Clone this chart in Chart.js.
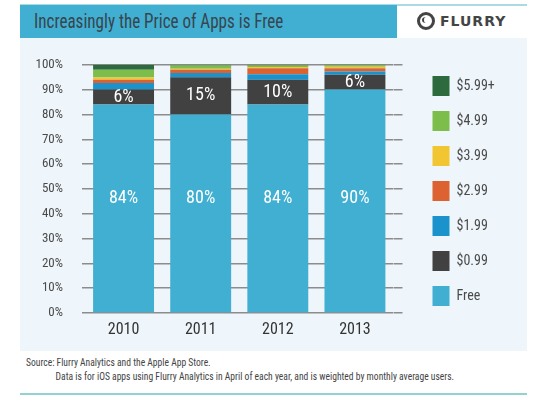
<!DOCTYPE html>
<html>
<head>
<meta charset="utf-8">
<script src="https://cdn.jsdelivr.net/npm/chart.js@4/dist/chart.umd.min.js"></script>
<style>
  html, body { margin: 0; padding: 0; background: #fff; width: 554px; height: 396px; overflow: hidden; }
  body { position: relative; font-family: "Roboto Condensed", "DejaVu Sans Condensed", sans-serif; }
  #topline { position: absolute; left: 20px; top: 4px; width: 507px; height: 2px; background: #a9dbe1; }
  #title { position: absolute; left: 20px; top: 5px; width: 377px; height: 33px; background: #41afd1; }
  #title span { position: absolute; left: 14px; top: 0; line-height: 33px; font-size: 20px; color: #37454f;
                white-space: nowrap; transform: scaleX(0.853); transform-origin: 0 50%; }
  #logo { position: absolute; left: 417px; top: 12px; height: 18px; display: flex; align-items: center;
          color: #444; font: bold 14px "DejaVu Sans", sans-serif; letter-spacing: 1px; }
  #logo .ring { width: 12px; height: 12px; border: 3px solid #444; border-radius: 50%; margin-right: 5px; position: relative; }
  #logo .ring::after { content: ""; position: absolute; left: 2px; top: 2px; width: 6px; height: 6px; border-radius: 50%; border-left: 2px solid #444; }
  #panel { position: absolute; left: 20px; top: 38px; width: 507px; height: 313px; background: #eef6fb; }
  #src { position: absolute; left: 26px; top: 356px; font-size: 11px; color: #444; line-height: 14px; white-space: nowrap;
         transform: scaleX(0.87); transform-origin: 0 0; }
  #src .l2 { padding-left: 34px; }
  #bottomline { position: absolute; left: 20px; top: 393px; width: 507px; height: 2px; background: #93d2d2; }
</style>
</head>
<body>
<div id="topline"></div>
<div id="title"><span>Increasingly the Price of Apps is Free</span></div>
<div id="logo"><span class="ring"></span>FLURRY</div>
<div id="panel"><canvas id="c" width="507" height="313"></canvas></div>
<div id="src">Source: Flurry Analytics and the Apple App Store.<br><span class="l2">Data is for iOS apps using Flurry Analytics in April of each year, and is weighted by monthly average users.</span></div>
<div id="bottomline"></div>

<script>
// ── Data ─────────────────────────────────────────────────────────────────────
const years   = ["2010", "2011", "2012", "2013"];
const free    = [84, 80, 84, 90];
const p099    = [6, 15, 10, 6];
const p199    = [2.7, 1.7, 2.2, 1.3];
const p299    = [1.3, 1.3, 2.4, 1.3];
const p399    = [0.9, 0.4, 0.5, 0.6];
const p499    = [3.1, 1.3, 0.6, 0.6];
const p599    = [2.0, 0.3, 0.3, 0.2];
const yTicks  = [0, 10, 20, 30, 40, 50, 60, 70, 80, 90, 100];

const C = {
    free:  "#41afd1",
    p099:  "#414141",
    p199:  "#1a93cc",
    p299:  "#dc6231",
    p399:  "#f2c532",
    p499:  "#7dbd4b",
    p599:  "#2d6a3e",
    grid:  "#8c8c8c",
    text:  "#4a4a4a",
};
const FONT = "'Roboto Condensed', 'DejaVu Sans Condensed', sans-serif";

// ── Value labels inside the Free and $0.99 segments ─────────────────────────
const FREE_LABEL_AT = 46;
const segLabels = {
    id: "segLabels",
    afterDatasetsDraw(chart) {
        const { ctx, scales: { y } } = chart;
        ctx.save();
        ctx.fillStyle = "#fff";
        ctx.font = `18px ${FONT}`;
        ctx.textAlign = "center";
        ctx.textBaseline = "middle";
        chart.getDatasetMeta(0).data.forEach((bar, i) => {
            ctx.fillText(free[i] + "%", bar.x, y.getPixelForValue(FREE_LABEL_AT));
        });
        chart.getDatasetMeta(1).data.forEach((bar, i) => {
            ctx.fillText(p099[i] + "%", bar.x, (bar.y + bar.base) / 2);
        });
        ctx.restore();
    },
};

const ds = (label, data, color) => ({ label, data, backgroundColor: color, borderWidth: 0 });

new Chart(document.getElementById("c").getContext("2d"), {
    type: "bar",
    data: {
        labels: years,
        datasets: [
            ds("Free",   free, C.free),
            ds("$0.99",  p099, C.p099),
            ds("$1.99",  p199, C.p199),
            ds("$2.99",  p299, C.p299),
            ds("$3.99",  p399, C.p399),
            ds("$4.99",  p499, C.p499),
            ds("$5.99+", p599, C.p599),
        ],
    },
    options: {
        responsive: false,
        animation: false,
        layout: { padding: { top: 17, right: 30, left: 0, bottom: 0 } },
        datasets: { bar: { barPercentage: 0.79, categoryPercentage: 1 } },
        scales: {
            x: {
                stacked: true,
                grid: { display: false, drawTicks: false },
                border: { display: false },
                ticks: { color: "#333", font: { family: FONT, size: 16 }, padding: 7 },
                afterFit: (s) => { s.height = 38; },
            },
            y: {
                stacked: true,
                min: 0,
                max: 100,
                afterBuildTicks: (s) => { s.ticks = yTicks.map((v) => ({ value: v })); },
                grid: { color: C.grid, lineWidth: 1.5, drawTicks: true, tickLength: 3 },
                border: { display: false },
                ticks: { color: C.text, font: { family: FONT, size: 13 }, padding: 19, callback: (v) => v + "%" },
                afterFit: (s) => { s.width = 65; },
            },
            y2: {
                position: "right",
                min: 0,
                max: 100,
                afterBuildTicks: (s) => { s.ticks = yTicks.map((v) => ({ value: v })); },
                grid: { color: C.grid, lineWidth: 1.5, drawOnChartArea: false, drawTicks: true, tickLength: 9 },
                border: { display: false },
                ticks: { color: "rgba(0,0,0,0)", padding: 0 },
                afterFit: (s) => { s.width = 24; },
            },
        },
        plugins: {
            legend: {
                position: "right",
                align: "start",
                reverse: true,
                title: { display: true, text: " ", font: { size: 5 }, padding: 0 },
                labels: {
                    boxWidth: 17,
                    boxHeight: 20,
                    padding: 15,
                    color: C.text,
                    font: { family: FONT, size: 14 },
                },
            },
            tooltip: { enabled: false },
        },
    },
    plugins: [segLabels],
});
</script>
</body>
</html>
